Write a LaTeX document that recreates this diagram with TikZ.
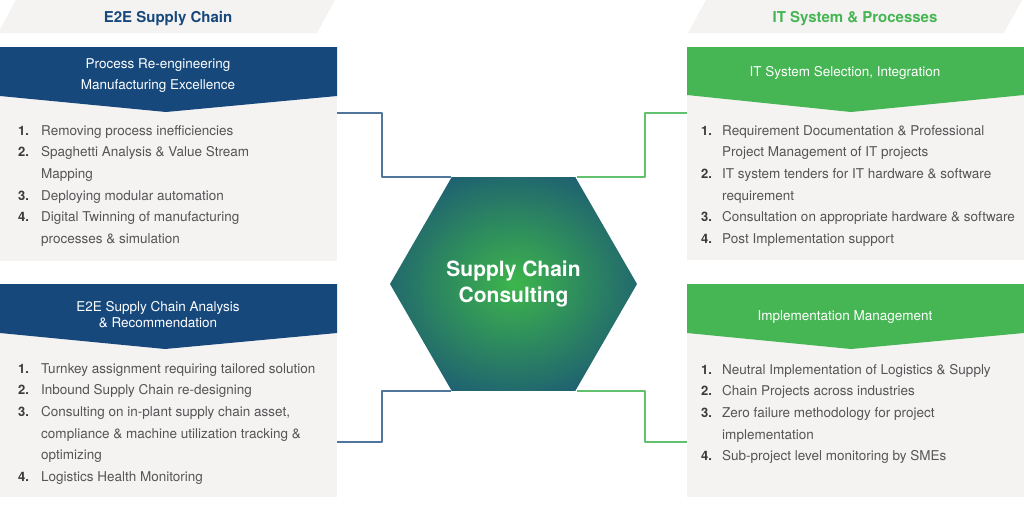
\documentclass[tikz,border=0pt]{standalone}
\usepackage{fontspec}
\setmainfont{TeX Gyre Heros}
\usepackage{tikz}
\usetikzlibrary{shapes.geometric}
\definecolor{scblue}{HTML}{16487C}
\definecolor{scgreen}{HTML}{45B653}
\definecolor{scgrey}{HTML}{F5F2F2}
\definecolor{sctext}{HTML}{555555}
\definecolor{scnum}{HTML}{3A3A3A}
\definecolor{hexgreen}{HTML}{3DB64B}
\pgfdeclareradialshading{hexglow}{\pgfpoint{0bp}{0bp}}{color(0bp)=(hexgreen); color(5bp)=(hexgreen!85!scblue); color(36bp)=(scblue); color(50bp)=(scblue)}
\tikzset{
  body/.style={fill=scgrey, inner sep=0pt, outer sep=0pt, anchor=north west},
  ttl/.style={font=\bfseries\fontsize{15}{18}\selectfont},
  hd/.style={text=white, font=\fontsize{13.5}{21}\selectfont, align=center},
  itm/.style={text=sctext, font=\fontsize{13.5}{21.7}\selectfont, align=left, anchor=base west, inner sep=0pt},
  num/.style={text=scnum, font=\bfseries\fontsize{13}{21.7}\selectfont, anchor=base west, inner sep=0pt},
  bluelink/.style={draw=scblue!75, line width=1.1pt},
  greenlink/.style={draw=scgreen!85, line width=1.1pt}
}
\begin{document}
\begin{tikzpicture}[line join=round,x=1pt,y=-1pt]
	\useasboundingbox (0,0) rectangle (1024,507);
	% titles
	\fill[scgrey] (-2,33) -- (16,0) -- (335,0) -- (317,33) -- cycle;
	\node[ttl,text=scblue] (tltitle) at (168,18.5) {E2E Supply Chain};
	\fill[scgrey] (688,33) -- (706,0) -- (1022,0) -- (1004,33) -- cycle;
	\node[ttl,text=scgreen] (trtitle) at (855,18.5) {IT System \& Processes};
	% boxes
	\node[body,minimum width=337pt,minimum height=214pt] (tlbox) at (0,47) {};
	\node[body,minimum width=337pt,minimum height=213pt] (blbox) at (0,284) {};
	\node[body,minimum width=337pt,minimum height=213pt] (trbox) at (687,47) {};
	\node[body,minimum width=337pt,minimum height=213pt] (brbox) at (687,284) {};
	\fill[scblue] (0,47) -- (337,47) -- (337,96) -- (166,112) -- (0,96) -- cycle;
	\fill[scblue] (0,284) -- (337,284) -- (337,333) -- (165,349) -- (0,333) -- cycle;
	\fill[scgreen] (687,47) -- (1024,47) -- (1024,95) -- (851,112) -- (687,95) -- cycle;
	\fill[scgreen] (687,284) -- (1024,284) -- (1024,333) -- (851,349) -- (687,333) -- cycle;
	\node[hd] (tlhead) at (158,75.5) {Process Re-engineering\\Manufacturing Excellence};
	\node[hd,font=\fontsize{13.5}{15.5}\selectfont] (blhead) at (158,314.5) {E2E Supply Chain Analysis\\\& Recommendation};
	\node[hd] (trhead) at (845,73) {IT System Selection, Integration};
	\node[hd] (brhead) at (845,317) {Implementation Management};
	% lists (\k first line, \j last line)
	\foreach \n/\k/\j/\t in {1/0/0/Removing process inefficiencies, 2/1/2/{Spaghetti Analysis \& Value Stream\\Mapping}, 3/3/3/Deploying modular automation, 4/4/5/{Digital Twinning of manufacturing\\processes \& simulation}}{
	\node[num] (tlnum\n) at (18,135+21.7*\k) {\n.};
	\node[itm] (tlitem\n) at (41,135+21.7*\j) {\t};
	}
	\foreach \n/\k/\j/\t in {1/0/0/Turnkey assignment requiring tailored solution, 2/1/1/Inbound Supply Chain re-designing, 3/2/4/{Consulting on in-plant supply chain asset,\\compliance \& machine utilization tracking \&\\optimizing}, 4/5/5/Logistics Health Monitoring}{
	\node[num] (blnum\n) at (18,373+21.7*\k) {\n.};
	\node[itm] (blitem\n) at (41,373+21.7*\j) {\t};
	}
	\foreach \n/\k/\j/\t in {1/0/1/{Requirement Documentation \& Professional\\Project Management of IT projects}, 2/2/3/{IT system tenders for IT hardware \& software\\requirement}, 3/4/4/Consultation on appropriate hardware \& software, 4/5/5/Post Implementation support}{
	\node[num] (trnum\n) at (701,135+21.7*\k) {\n.};
	\node[itm] (tritem\n) at (722,135+21.7*\j) {\t};
	}
	\foreach \n/\k/\j/\t in {1/0/0/Neutral Implementation of Logistics \& Supply, 2/1/1/Chain Projects across industries, 3/2/3/{Zero failure methodology for project\\implementation}, 4/4/4/Sub-project level monitoring by SMEs}{
	\node[num] (brnum\n) at (701,374+21.7*\k) {\n.};
	\node[itm] (britem\n) at (722,374+21.7*\j) {\t};
	}
	% centre
	\draw[bluelink] (tlbox.east |- 0,113) -- (382,113) |- (451,177);
	\draw[bluelink] (blbox.east |- 0,442) -- (382,442) |- (451,391);
	\draw[greenlink] (577,177) -| (645,113) -- (trbox.west |- 0,113);
	\draw[greenlink] (577,391) -| (645,442) -- (brbox.west |- 0,442);
	\node[regular polygon,regular polygon sides=6,minimum size=247pt,inner sep=0pt,outer sep=0pt,shading=hexglow,text=white,font=\bfseries\fontsize{21}{26}\selectfont,align=center] (hexa) at (513.5,284) {Supply Chain\\Consulting};
\end{tikzpicture}
\end{document}
